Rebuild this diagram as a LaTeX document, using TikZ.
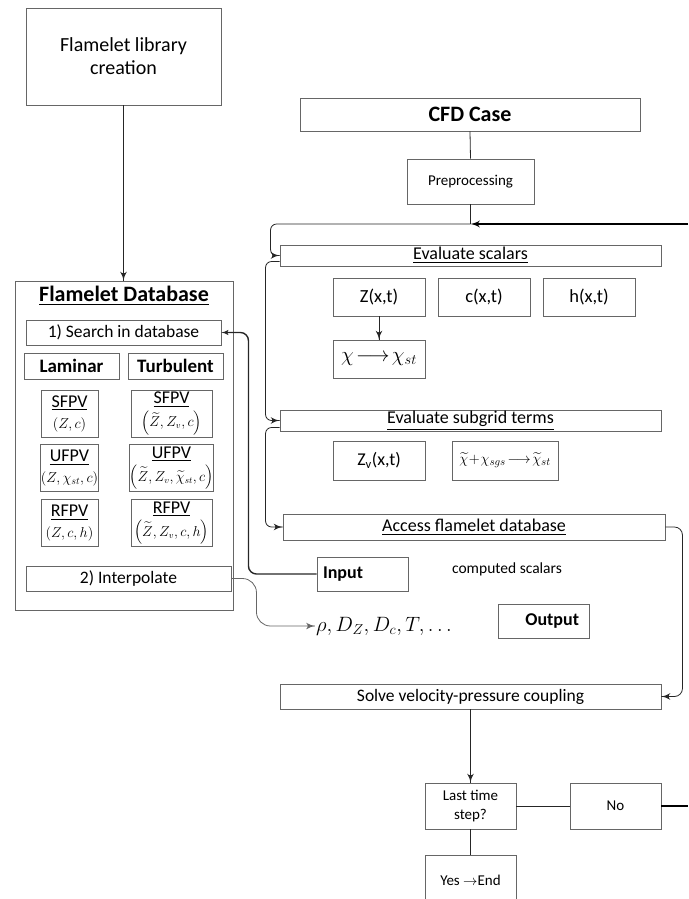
\documentclass[tikz,border=0pt]{standalone}
\usepackage{amsmath}
\usepackage{amssymb}
\usepackage{fontspec}
\setmainfont{Carlito}
\usetikzlibrary{arrows}
\usetikzlibrary{calc}
\usetikzlibrary{decorations.markings}
\tikzset{box/.style = {draw=black!60, line width=0.9pt, inner sep=0pt, align=center},
         link/.style = {draw=black!85, line width=0.8pt},
         tip/.style = {decoration={markings,
                                   mark=at position 1 with {\arrow[scale=1.7]{latex'}}},
                       postaction={decorate}},
         fs/.style 2 args = {font=\fontsize{#1}{#2}\selectfont}}

\begin{document}
\begin{tikzpicture}[x=1pt, y=-1pt]
      \useasboundingbox (0, 0) rectangle (688, 899);

      % left column: library and database
      \node [box, minimum width=195pt, minimum height=97pt, fs={20}{23}] (lib) at (123.5, 56.5) {Flamelet library\\creation};
      \node [box, minimum width=218pt, minimum height=329pt] (db) at (124, 445.5) {};
      \node [font=\fontsize{22}{26}\selectfont\bfseries] (dbtitle) at (124, 296) {\underline{Flamelet Database}};
      \node [box, minimum width=195pt, minimum height=25pt, fs={17.5}{21}] (search) at (123.5, 332.5) {1) Search in database};
      \node [box, minimum width=95pt, minimum height=26pt, font=\fontsize{19}{23}\selectfont\bfseries] (lam) at (71.5, 366) {Laminar};
      \node [box, minimum width=95pt, minimum height=26pt, font=\fontsize{19}{23}\selectfont\bfseries] (turb) at (175.5, 366) {Turbulent};

      \foreach \m/\y/\lamarg/\turbarg in {SFPV/413.5/{Z,c}/{\widetilde{Z},Z_v,c},
                                          UFPV/468/{Z,\chi_{st},c}/{\widetilde{Z},Z_v,\widetilde{\chi}_{st},c},
                                          RFPV/523/{Z,c,h}/{\widetilde{Z},Z_v,c,h}} {
        \node [box, minimum width=57pt, minimum height=47pt, fs={18}{21}] (lam\m) at (69.5, \y)
              {\underline{\m}\\{\fontsize{14.5}{17}\selectfont$\left(\lamarg\right)$}};
        \node [box, minimum width=81pt, minimum height=47pt, fs={18}{23}] (turb\m) at (171.5, \y)
              {\underline{\m}\\{\fontsize{13.5}{16}\selectfont$\left(\turbarg\right)$}};
      };

      \node [box, minimum width=205pt, minimum height=25pt, fs={17.5}{21}] (interp) at (128.5, 578.5) {2) Interpolate};

      % right column: CFD loop
      \node [box, minimum width=340pt, minimum height=33pt, font=\fontsize{22}{26}\selectfont\bfseries] (cfd) at (470, 114.5) {CFD Case};
      \node [box, minimum width=127pt, minimum height=45pt, fs={15}{18}] (prep) at (470.5, 181.5) {Preprocessing};
      \node [box, minimum width=381pt, minimum height=21pt, fs={18}{21}] (evs) at (470.5, 255.5) {\underline{Evaluate scalars}};

      \foreach \n/\x/\t in {z/379/{Z(x,t)}, c/484/{c(x,t)}, h/589/{h(x,t)}}
        \node [box, minimum width=92pt, minimum height=38pt, fs={18.5}{22}] (\n) at (\x, 297) {\t};

      \node [box, minimum width=92pt, minimum height=38pt, fs={20}{22}] (chi) at (379, 359) {$\chi\!\longrightarrow\!\chi_{st}$};
      \node [box, minimum width=381pt, minimum height=21pt, fs={18}{21}] (evsub) at (470.5, 420.5) {\underline{Evaluate subgrid terms}};
      \node [box, minimum width=92pt, minimum height=39pt, fs={18}{21}] (zv) at (379, 460.5) {Z\textsubscript{v}(x,t)};
      \node [box, minimum width=106pt, minimum height=39pt, fs={15}{18}] (chit) at (505, 460.5)
            {$\widetilde{\chi}\!+\!\chi_{sgs}\!\longrightarrow\!\widetilde{\chi}_{st}$};
      \node [box, minimum width=382pt, minimum height=26pt, fs={18}{21}] (access) at (474, 527) {\underline{Access flamelet database}};

      \node [box, minimum width=91pt, minimum height=34pt, text width=79pt, align=left,
             font=\fontsize{18}{21}\selectfont\bfseries] (input) at (362.5, 574) {Input};
      \node [fs={15.5}{18}] (comp) at (507, 569) {computed scalars};
      \node [inner sep=1pt, fs={21}{25}] (rho) at (384, 626) {$\rho, D_Z, D_c, T, \ldots$};
      \node [box, minimum width=91pt, minimum height=34pt, text width=71pt, align=right,
             font=\fontsize{18}{21}\selectfont\bfseries] (output) at (543.5, 621) {Output};

      \node [box, minimum width=381pt, minimum height=25pt, fs={17.5}{21}] (solve) at (470.5, 696.5) {Solve velocity-pressure coupling};
      \node [box, minimum width=91pt, minimum height=46pt, fs={15}{19}] (last) at (470.5, 806) {Last time\\step?};
      \node [box, minimum width=91pt, minimum height=46pt, fs={15}{19}] (no) at (615.5, 806) {No};
      \node [box, minimum width=91pt, minimum height=50pt, fs={15}{19}] (yes) at (470.5, 880) {Yes $\rightarrow$End};

      \coordinate (join) at (470.5, 224);
      \coordinate (loopin) at (688, 224);
      \coordinate (loopout) at (688, 806);

      % connectors
      \draw [link, tip] (lib.south) -- (lib.south |- db.north);
      \draw [link] (cfd.south) -- (prep.north);
      \draw [link] (prep.south) -- (join);
      \draw [line width=2.2pt, -latex'] (loopin) -- (join);
      \draw [link, tip, rounded corners=6pt] (join) -| ($(evs.west)+(-9,0)$) -- (evs.west);
      \draw [link, tip, rounded corners=6pt] ($(evs.west)+(0,6)$) -- ++(-14,0) |- (evsub.west);
      \draw [link, tip, rounded corners=6pt] ($(evsub.west)+(0,7)$) -- ++(-14,0) |- (access.west);
      \draw [link, tip] (z.south) -- (chi.north);
      \draw [link, tip, rounded corners=8pt] (access.east) -| ($(solve.east)+(21,0)$) -- (solve.east);
      \draw [link, line width=1.4pt, -latex', rounded corners=8pt] (input.west) -| ($(search.east)+(27,0)$) -- (search.east);
      \draw [link, draw=black!60, tip, rounded corners=14pt] (interp.east) -- ++(25,0) |- (rho.west);
      \draw [link, tip] (solve.south) -- (last.north);
      \draw [link] (last.east) -- (no.west);
      \draw [line width=2.2pt] (no.east) -- (loopout);
      \draw [link] (last.south) -- (yes.north);
    \end{tikzpicture}
\end{document}
